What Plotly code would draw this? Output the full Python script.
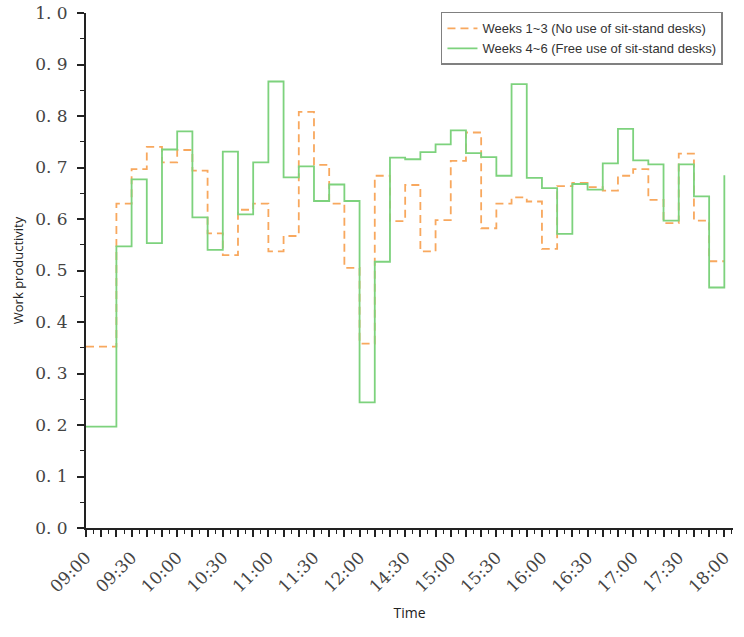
import plotly.graph_objects as go

# 10-minute time slots (lunch break collapsed)
slots = ["09:00", "09:10", "09:20", "09:30", "09:40", "09:50", "10:00", "10:10", "10:20",
         "10:30", "10:40", "10:50", "11:00", "11:10", "11:20", "11:30", "11:40", "11:50",
         "12:00", "12:10", "12:20",
         "14:30", "14:40", "14:50", "15:00", "15:10", "15:20", "15:30", "15:40", "15:50",
         "16:00", "16:10", "16:20", "16:30", "16:40", "16:50", "17:00", "17:10", "17:20",
         "17:30", "17:40", "17:50", "18:00"]

tick_labels = ["09:00", "09:30", "10:00", "10:30", "11:00", "11:30", "12:00",
               "14:30", "15:00", "15:30", "16:00", "16:30", "17:00", "17:30", "18:00"]

weeks_1_3 = [0.352, 0.352, 0.630, 0.697, 0.740, 0.710, 0.734, 0.694, 0.572, 0.530,
             0.618, 0.630, 0.537, 0.567, 0.808, 0.705, 0.630, 0.505, 0.358, 0.684,
             0.596, 0.666, 0.537, 0.598, 0.713, 0.768, 0.582, 0.630, 0.642, 0.634,
             0.542, 0.664, 0.670, 0.662, 0.655, 0.684, 0.697, 0.637, 0.592, 0.727,
             0.597, 0.518, 0.518]

weeks_4_6 = [0.197, 0.197, 0.547, 0.677, 0.553, 0.735, 0.770, 0.603, 0.540, 0.731,
             0.609, 0.710, 0.867, 0.681, 0.702, 0.635, 0.667, 0.635, 0.244, 0.517,
             0.719, 0.716, 0.730, 0.745, 0.772, 0.728, 0.720, 0.684, 0.862, 0.680,
             0.660, 0.571, 0.668, 0.657, 0.708, 0.775, 0.714, 0.706, 0.597, 0.706,
             0.644, 0.467, 0.685]

y_ticks = [0.0, 0.1, 0.2, 0.3, 0.4, 0.5, 0.6, 0.7, 0.8, 0.9, 1.0]

xpos = list(range(len(slots)))
x_ticktext = [s if s in tick_labels else "" for s in slots]

fig = go.Figure()
fig.add_trace(go.Scatter(
    x=xpos, y=weeks_1_3, mode="lines", line_shape="hv",
    name="Weeks 1~3 (No use of sit-stand desks)",
    line=dict(color="#F8A85E", width=1.8, dash="8px,5px")))
fig.add_trace(go.Scatter(
    x=xpos, y=weeks_4_6, mode="lines", line_shape="hv",
    name="Weeks 4~6 (Free use of sit-stand desks)",
    line=dict(color="#7DD27D", width=1.8)))

tickfont = dict(family="DejaVu Serif, Liberation Serif, serif", size=17, color="#444444")

fig.update_layout(
    width=744, height=637,
    margin=dict(l=86, r=11, t=13, b=109),
    paper_bgcolor="white", plot_bgcolor="white",
    showlegend=True,
    legend=dict(
        x=0.9845, y=1.002, xanchor="right", yanchor="top",
        bordercolor="#808080", borderwidth=1.5, bgcolor="white",
        font=dict(family="Liberation Sans, Arial, sans-serif", size=13, color="#333333"),
        tracegroupgap=0, itemwidth=30),
    xaxis=dict(
        automargin=False,
        range=[0, 42.57], showgrid=False, zeroline=False,
        showline=True, linecolor="#222222", linewidth=2,
        tickmode="array", tickvals=xpos, ticktext=x_ticktext,
        ticks="outside", ticklen=7, tickwidth=1.5, tickcolor="#222222",
        tickangle=-45, tickfont=tickfont, ticklabelstandoff=4,
        minor=dict(tickmode="linear", tick0=0, dtick=0.5, ticks="outside",
                   ticklen=4, tickwidth=1.2, tickcolor="#222222"),
        title=dict(text="Time", standoff=13,
                   font=dict(family="Open Sans, Liberation Sans, sans-serif", size=14, color="#222222"))),
    yaxis=dict(
        automargin=False,
        range=[0, 1.0], showgrid=False, zeroline=False,
        showline=True, linecolor="#222222", linewidth=2,
        tickmode="array", tickvals=y_ticks,
        ticktext=[f"{v:.1f}".replace(".", ". ") for v in y_ticks],
        ticks="outside", ticklen=7, tickwidth=1.5, tickcolor="#222222",
        tickfont=tickfont, ticklabelstandoff=6,
        minor=dict(tickmode="linear", tick0=0, dtick=0.05, ticks="outside",
                   ticklen=4, tickwidth=1.2, tickcolor="#222222"),
        title=dict(text="Work productivity", standoff=9,
                   font=dict(family="Open Sans, Liberation Sans, sans-serif", size=13, color="#222222"))),
)

fig.write_html("out.html", config={"displayModeBar": False},
               post_script="document.body.style.margin='0px';")
